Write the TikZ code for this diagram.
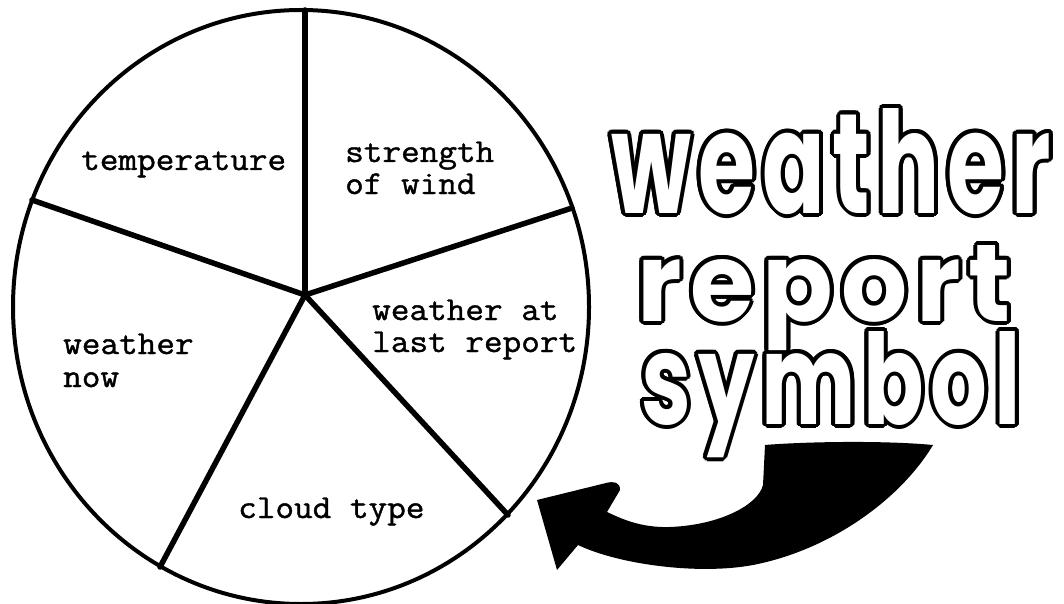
\documentclass[tikz,border=0pt]{standalone}
\usepackage{fontspec}
\usepackage{graphicx}
\usetikzlibrary{shapes.geometric}
\newfontfamily\typew{Latin Modern Mono}[FakeStretch=1.08, FakeBold=1.2]
\newfontfamily\bubblefont{Poppins}[LetterSpace=8]
\newcommand{\bubword}[3]{\resizebox{#1}{#2}{\bubblefont\bfseries\fontsize{100}{100}\selectfont #3}}
\begin{document}
\begin{tikzpicture}[x=1pt,y=-1pt,
  rim/.style={line width=4pt},
  spoke/.style={line width=5.5pt, line cap=round},
  lbl/.style={font=\typew\fontsize{33.5}{33}\selectfont, anchor=base west, inner sep=0pt},
  bubout/.style={anchor=base west, inner sep=0pt, text=black},
  bubin/.style={anchor=base west, inner sep=0pt, text=white}]
\useasboundingbox[fill=white] (0,0) rectangle (1064,604);

% dial
\node[draw, rim, ellipse, minimum width=576pt, minimum height=594pt, inner sep=0pt] (dial) at (301,307) {};
\coordinate (hub) at (305,295);
\coordinate (pT) at (305,10);
\coordinate (pL) at (32,200);
\coordinate (pR) at (572,208);
\coordinate (pBL) at (160,567);
\coordinate (pBR) at (508,515);
\foreach \p in {pT,pL,pR,pBL,pBR} \draw[spoke] (hub) -- (\p);

% labels
\node[lbl] (temp) at (81,170) {temperature};
\node[lbl] (str1) at (345,162) {strength};
\node[lbl] (str2) at (345,194) {of wind};
\node[lbl] (wl1) at (372,320) {weather at};
\node[lbl] (wl2) at (372,352) {last report};
\node[lbl] (wn1) at (63,354) {weather};
\node[lbl] (wn2) at (63,387) {now};
\node[lbl] (cloud) at (238,518) {cloud type};

% bubble title: black outline copies, white letters on top
\foreach \a in {0,22.5,...,337.5}{
  \node[bubout, shift={(\a:4)}] at (611,213) {\bubword{440pt}{105pt}{weather}};
  \node[bubout, shift={(\a:4)}] at (637,321) {\bubword{374pt}{76pt}{report}};
  \node[bubout, shift={(\a:4)}] at (641,424) {\bubword{380pt}{93pt}{symbol}};
}
\node[bubin] (t1) at (611,213) {\bubword{440pt}{105pt}{weather}};
\node[bubin] (t2) at (637,321) {\bubword{374pt}{76pt}{report}};
\node[bubin] (t3) at (641,424) {\bubword{380pt}{93pt}{symbol}};

% arrow
\coordinate (aTR) at (933,445);
\coordinate (aTL) at (765,445);
\coordinate (aTip) at (537,500);
\fill (aTR) .. controls (880,440) and (800,442) .. (aTL)
  -- (763,485) .. controls (758,505) and (720,525) .. (670,527)
  .. controls (640,528) and (620,518) .. (607,512)
  -- (620,490) .. controls (620,482) and (614,481) .. (606,483)
  -- (aTip) -- (557,570) -- (578,545)
  .. controls (620,565) and (700,575) .. (753,565)
  .. controls (830,550) and (900,500) .. (aTR) -- cycle;
\end{tikzpicture}
\end{document}
